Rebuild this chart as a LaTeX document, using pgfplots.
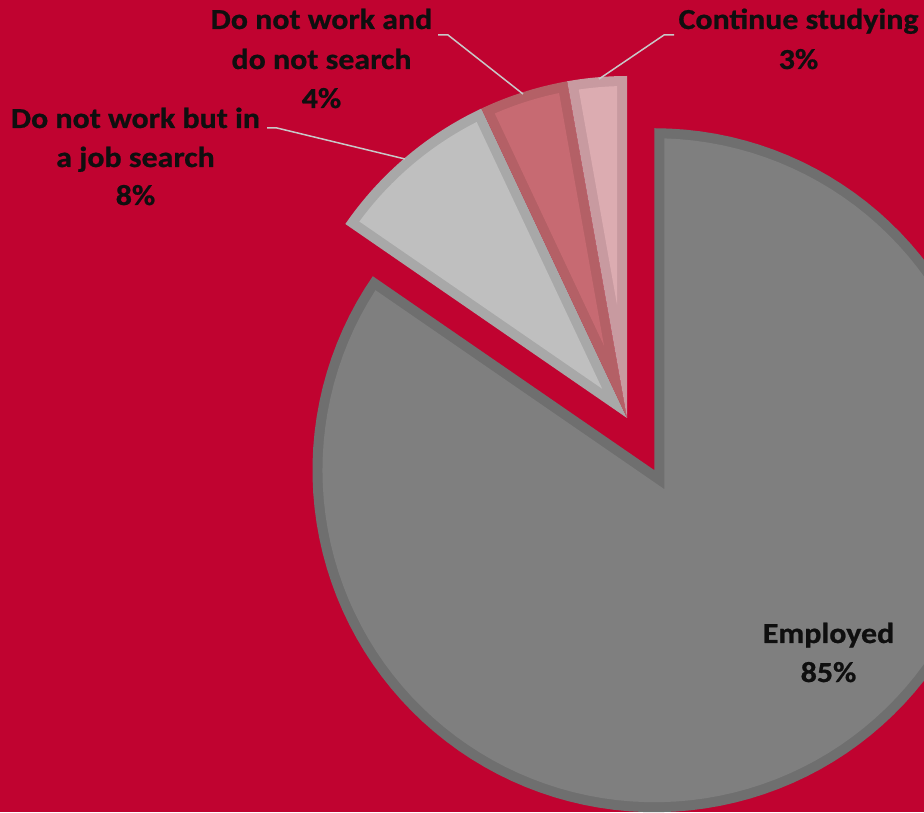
\documentclass[border=0pt]{standalone}
\usepackage{fontspec}
\setmainfont{Carlito}
\newfontfamily\lblfont{Carlito}[FakeStretch=1.1, FakeBold=0.8]
\usepackage{pgfplots}
\usepackage{pgfplotstable}
\pgfplotsset{compat=1.18}
\definecolor{bgred}{RGB}{192,3,48}
\definecolor{empfill}{RGB}{127,127,127}
\definecolor{empline}{RGB}{111,111,111}
\definecolor{jobfill}{RGB}{191,191,191}
\definecolor{jobline}{RGB}{168,168,168}
\definecolor{dnwfill}{RGB}{199,106,114}
\definecolor{dnwline}{RGB}{180,96,102}
\definecolor{stufill}{RGB}{220,172,177}
\definecolor{stuline}{RGB}{200,154,160}
\definecolor{leader}{RGB}{200,200,200}
\definecolor{txt}{RGB}{15,15,15}

\pgfplotstableread{
name pct
Continue 2.8
DNW 4.2
Job 8.4
Employed 84.6
}\pietable

\newcommand{\getpct}[2]{\pgfplotstablegetelem{#1}{pct}\of\pietable\edef#2{\pgfplotsretval}}

% #1 cx, #2 cy, #3 a1, #4 a2, #5 border colour, #6 fill colour
\newcommand{\pieslice}[6]{%
  \pgfmathsetmacro\sm{(#3+#4)/2}%
  \pgfmathsetmacro\sh{(#4-#3)/2}%
  \pgfmathsetmacro\dd{\bw/sin(\sh)}%
  \pgfmathsetmacro\ivx{#1+\dd*cos(\sm)}%
  \pgfmathsetmacro\ivy{#2+\dd*sin(\sm)}%
  \pgfmathsetmacro\rin{\R-\bw}%
  \pgfmathsetmacro\del{asin(\bw/\rin)}%
  \pgfmathsetmacro\ia{#3+\del}%
  \pgfmathsetmacro\ib{#4-\del}%
  \edef\doplot{\noexpand\addplot[draw=none, fill=#5, domain=#3:#4, samples=120]
    ({#1+\R*cos(x)},{#2+\R*sin(x)}) -- (axis cs:#1,#2) -- cycle;
    \noexpand\addplot[draw=none, fill=#6, domain=\ia:\ib, samples=120]
    ({#1+\rin*cos(x)},{#2+\rin*sin(x)}) -- (axis cs:\ivx,\ivy) -- cycle;}%
  \doplot
}

\begin{document}
\begin{tikzpicture}
\getpct{0}{\pA}\getpct{1}{\pB}\getpct{2}{\pC}\getpct{3}{\pD}
\pgfmathsetmacro\aA{90}
\pgfmathsetmacro\aB{\aA+3.6*\pA}
\pgfmathsetmacro\aC{\aB+3.6*\pB}
\pgfmathsetmacro\aD{\aC+3.6*\pC}
\pgfmathsetmacro\aE{\aD+3.6*\pD}
\def\R{342}
\def\bw{10}
\def\cx{627}
\def\cy{394}
\def\explode{59}
\pgfmathsetmacro\em{(\aD+\aE)/2}
\pgfmathsetmacro\ex{\cx+\explode*cos(\em)}
\pgfmathsetmacro\ey{\cy+\explode*sin(\em)}
\fill[bgred] (0,0) rectangle (924pt,812pt);
\begin{axis}[at={(0,0)}, anchor=south west, width=924pt, height=812pt,
  scale only axis, xmin=0, xmax=924, ymin=0, ymax=812, hide axis, clip=true]
\pieslice{\ex}{\ey}{\aD}{\aE}{empline}{empfill}
\pieslice{\cx}{\cy}{\aC}{\aD}{jobline}{jobfill}
\pieslice{\cx}{\cy}{\aB}{\aC}{dnwline}{dnwfill}
\pieslice{\cx}{\cy}{\aA}{\aB}{stuline}{stufill}
% leader lines
\addplot[leader, line width=1.5pt] coordinates {(438,777) (448,777) (523,718)};
\addplot[leader, line width=1.5pt] coordinates {(674,777) (664,777) (599,733)};
\addplot[leader, line width=1.5pt] coordinates {(267,684) (277,684) (405,653)};
% labels
\tikzset{lbl/.style={anchor=base, text=txt, inner sep=0pt,
  font=\lblfont\fontsize{29}{36}\selectfont\bfseries}}
\node[lbl] at (axis cs:321.5,783) {Do not work and};
\node[lbl] at (axis cs:321.5,743) {do not search};
\node[lbl] at (axis cs:321.5,704) {4\%};
\node[lbl] at (axis cs:135.5,684) {Do not work but in};
\node[lbl] at (axis cs:135.5,645) {a job search};
\node[lbl] at (axis cs:135.5,607) {8\%};
\node[lbl] at (axis cs:798.5,783) {Continue studying};
\node[lbl] at (axis cs:798.5,743) {3\%};
\node[lbl] at (axis cs:828.5,169) {Employed};
\node[lbl] at (axis cs:828.5,130) {85\%};
\end{axis}
\end{tikzpicture}
\end{document}
